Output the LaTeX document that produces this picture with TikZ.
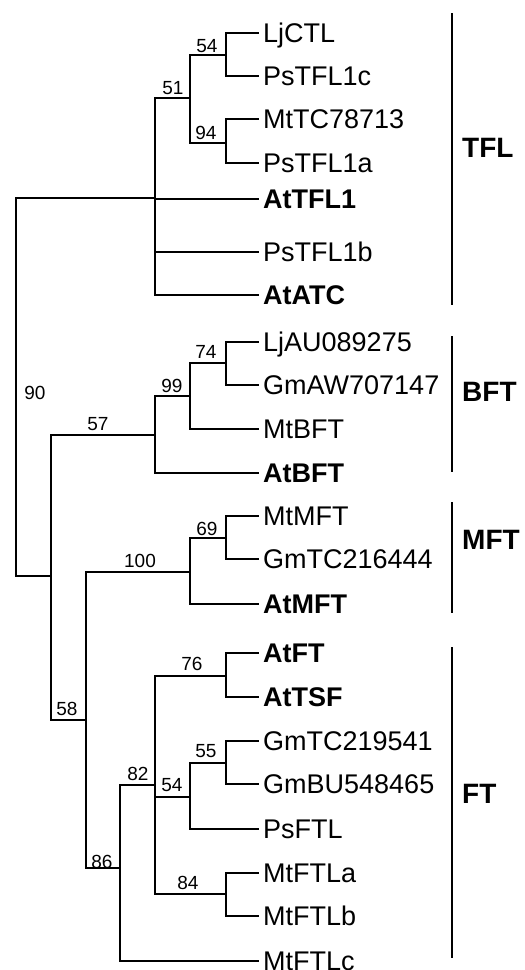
\documentclass[tikz,border=0pt]{standalone}
\usepackage{fontspec}
\setmainfont{Liberation Sans}
\begin{document}
\begin{tikzpicture}[x=1pt,y=-1pt,
  br/.style={line width=1.7pt},
  brb/.style={line width=2.3pt},
  leaf/.style={anchor=west,inner xsep=4pt,inner ysep=0pt,text height=19.3pt,text depth=0pt,font=\fontsize{27}{27}\selectfont},
  leafb/.style={leaf,font=\fontsize{27}{27}\selectfont\bfseries},
  boot/.style={inner sep=0pt,text height=13.6pt,text depth=0pt,font=\fontsize{19}{19}\selectfont},
  grp/.style={anchor=west,inner sep=0pt,text height=20pt,text depth=0pt,font=\fontsize{28}{28}\selectfont\bfseries},
  bar/.style={line width=2.6pt}]
\useasboundingbox (0,0) rectangle (525,970);
% internal nodes
\coordinate (root) at (16,387);
\coordinate (nTFL) at (155,198);
\coordinate (n51) at (190,98);
\coordinate (n54a) at (226,55);
\coordinate (n94) at (226,143);
\coordinate (n58) at (51,576);
\coordinate (n57) at (155,435);
\coordinate (n99) at (190,396);
\coordinate (n74) at (226,363);
\coordinate (n86) at (86,720);
\coordinate (n100) at (190,572);
\coordinate (n69) at (226,538);
\coordinate (nFT) at (120,868);
\coordinate (n82) at (155,785);
\coordinate (n76) at (226,676);
\coordinate (n54b) at (190,797);
\coordinate (n55) at (226,763);
\coordinate (n84) at (226,894);
% leaves
\node[leaf]  (LjCTL)  at (259,33)  {LjCTL};
\node[leaf]  (PsTFLc) at (259,76)  {PsTFL1c};
\node[leaf]  (MtTC)   at (259,119) {MtTC78713};
\node[leaf]  (PsTFLa) at (259,163) {PsTFL1a};
\node[leafb] (AtTFL)  at (259,199) {AtTFL1};
\node[leaf]  (PsTFLb) at (259,252) {PsTFL1b};
\node[leafb] (AtATC)  at (259,295) {AtATC};
\node[leaf]  (LjAU)   at (259,342) {LjAU089275};
\node[leaf]  (GmAW)   at (259,385) {GmAW707147};
\node[leaf]  (MtBFT)  at (259,429) {MtBFT};
\node[leafb] (AtBFT)  at (259,473) {AtBFT};
\node[leaf]  (MtMFT)  at (259,516) {MtMFT};
\node[leaf]  (GmTCa)  at (259,559) {GmTC216444};
\node[leafb] (AtMFT)  at (259,604) {AtMFT};
\node[leafb] (AtFT)   at (259,653) {AtFT};
\node[leafb] (AtTSF)  at (259,697) {AtTSF};
\node[leaf]  (GmTCb)  at (259,741) {GmTC219541};
\node[leaf]  (GmBU)   at (259,784) {GmBU548465};
\node[leaf]  (PsFTL)  at (259,829) {PsFTL};
\node[leaf]  (MtFTLa) at (259,873) {MtFTLa};
\node[leaf]  (MtFTLb) at (259,916) {MtFTLb};
\node[leaf]  (MtFTLc) at (259,961) {MtFTLc};
% branches
\draw[br] (root) |- (nTFL);
\draw[br] (root) |- (n58);
\draw[br] (nTFL) |- (n51);
\draw[brb] (nTFL) |- (AtTFL.west);
\draw[br] (nTFL) |- (PsTFLb.west);
\draw[brb] (nTFL) |- (AtATC.west);
\draw[br] (n51) |- (n54a);
\draw[br] (n51) |- (n94);
\draw[br] (n54a) |- (LjCTL.west);
\draw[br] (n54a) |- (PsTFLc.west);
\draw[br] (n94) |- (MtTC.west);
\draw[br] (n94) |- (PsTFLa.west);
\draw[br] (n58) |- (n57);
\draw[br] (n58) |- (n86);
\draw[br] (n57) |- (n99);
\draw[brb] (n57) |- (AtBFT.west);
\draw[br] (n99) |- (n74);
\draw[br] (n99) |- (MtBFT.west);
\draw[br] (n74) |- (LjAU.west);
\draw[br] (n74) |- (GmAW.west);
\draw[br] (n86) |- (n100);
\draw[br] (n86) |- (nFT);
\draw[br] (n100) |- (n69);
\draw[brb] (n100) |- (AtMFT.west);
\draw[br] (n69) |- (MtMFT.west);
\draw[br] (n69) |- (GmTCa.west);
\draw[br] (nFT) |- (n82);
\draw[br] (nFT) |- (MtFTLc.west);
\draw[br] (n82) |- (n76);
\draw[br] (n82) |- (n54b);
\draw[br] (n82) |- (n84);
\draw[brb] (n76) |- (AtFT.west);
\draw[brb] (n76) |- (AtTSF.west);
\draw[br] (n54b) |- (n55);
\draw[br] (n54b) |- (PsFTL.west);
\draw[br] (n55) |- (GmTCb.west);
\draw[br] (n55) |- (GmBU.west);
\draw[br] (n84) |- (MtFTLa.west);
\draw[br] (n84) |- (MtFTLb.west);
% bootstrap values
\node[boot] (b54a) at (207,46)  {54};
\node[boot] (b51)  at (173,88)  {51};
\node[boot] (b94)  at (206,133) {94};
\node[boot] (b90)  at (35,393)  {90};
\node[boot] (b74)  at (206,352) {74};
\node[boot] (b99)  at (172,386) {99};
\node[boot] (b57)  at (98,424)  {57};
\node[boot] (b69)  at (207,529) {69};
\node[boot] (b100) at (140,561) {100};
\node[boot] (b58)  at (67,709)  {58};
\node[boot] (b76)  at (192,664) {76};
\node[boot] (b55)  at (206,751) {55};
\node[boot] (b82)  at (138,774) {82};
\node[boot] (b54b) at (172,785) {54};
\node[boot] (b86)  at (102,862) {86};
\node[boot] (b84)  at (188,883) {84};
% group bars and labels
\draw[bar] (452,13) -- (452,305);
\draw[bar] (452,336) -- (452,472);
\draw[bar] (452,502) -- (452,613);
\draw[bar] (452,647) -- (452,958);
\node[grp] (gTFL) at (462,147) {TFL};
\node[grp] (gBFT) at (462,391) {BFT};
\node[grp] (gMFT) at (462,539) {MFT};
\node[grp] (gFT)  at (462,793) {FT};
\end{tikzpicture}
\end{document}
